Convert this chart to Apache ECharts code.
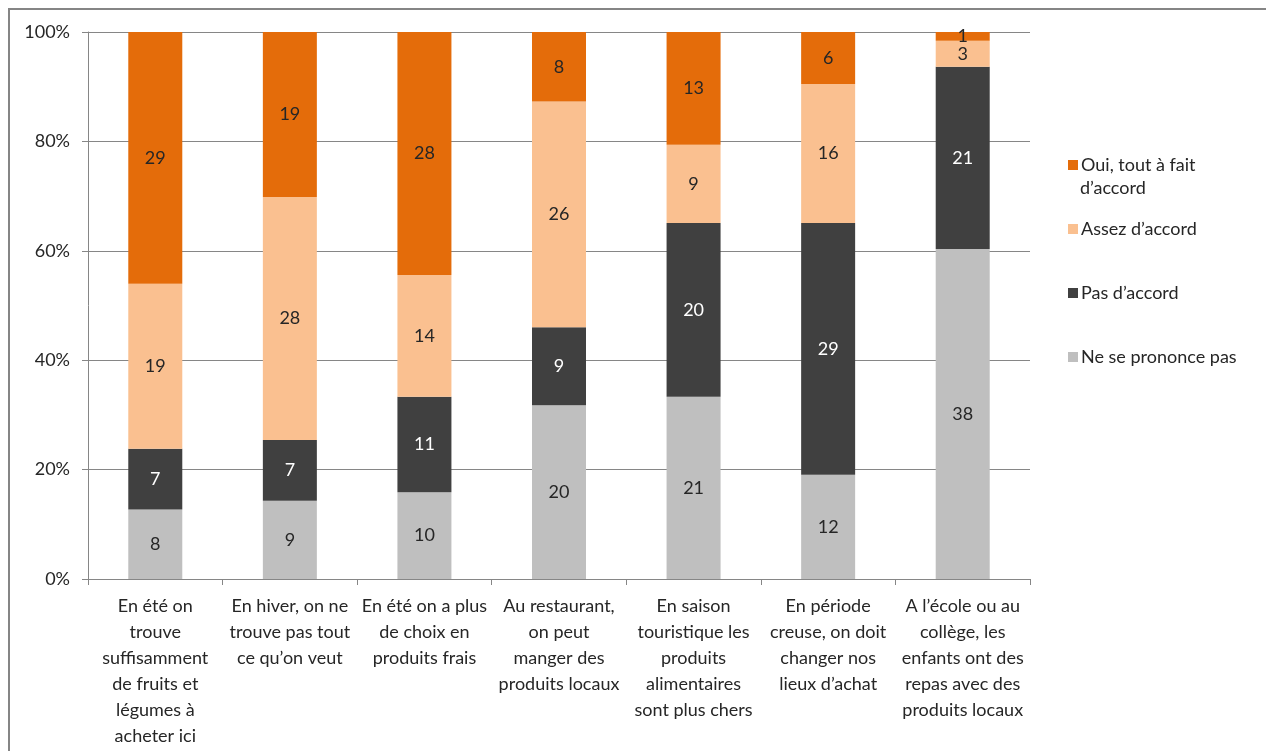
<!DOCTYPE html>
<html>
<head>
<meta charset="utf-8">
<script src="https://cdn.jsdelivr.net/npm/echarts@6/dist/echarts.min.js"></script>
<style>
  html, body { margin: 0; padding: 0; background: #fff; }
  #chart { width: 1266px; height: 751px; }
</style>
</head>
<body>
<div id="chart"></div>
<script>
// Survey statements (x-axis categories)
const categories = [
  "En été on\ntrouve\nsuffisamment\nde fruits et\nlégumes à\nacheter ici",
  "En hiver, on ne\ntrouve pas tout\nce qu’on veut",
  "En été on a plus\nde choix en\nproduits frais",
  "Au restaurant,\non peut\nmanger des\nproduits locaux",
  "En saison\ntouristique les\nproduits\nalimentaires\nsont plus chers",
  "En période\ncreuse, on doit\nchanger nos\nlieux d’achat",
  "A l’école ou au\ncollège, les\nenfants ont des\nrepas avec des\nproduits locaux"
];

// Answer counts per statement
const neSePrononcePas = [8, 9, 10, 20, 21, 12, 38];
const pasDAccord      = [7, 7, 11, 9, 20, 29, 21];
const assezDAccord    = [19, 28, 14, 26, 9, 16, 3];
const ouiToutAFait    = [29, 19, 28, 8, 13, 6, 1];

const yTicks = [0, 20, 40, 60, 80, 100];

const seriesDefs = [
  { name: "Ne se prononce pas", counts: neSePrononcePas, color: "#BFBFBF" },
  { name: "Pas d’accord", counts: pasDAccord, color: "#404040" },
  { name: "Assez d’accord", counts: assezDAccord, color: "#FAC090" },
  { name: "Oui, tout à fait d’accord", counts: ouiToutAFait, color: "#E46C0A" }
];

// totals per statement, used to express each answer as a share of 100%
const totals = categories.map((_, i) =>
  seriesDefs.reduce((s, d) => s + d.counts[i], 0));

const FONT = "Lato";
const FS = 18;

const series = seriesDefs.map(d => ({
  name: d.name,
  type: "bar",
  stack: "total",
  barWidth: 54,
  itemStyle: { color: d.color },
  label: {
    show: true,
    position: "inside",
    fontFamily: FONT,
    fontSize: FS,
    color: d.name === "Pas d’accord" ? "#ffffff" : "#262626",
    formatter: p => String(d.counts[p.dataIndex])
  },
  emphasis: { disabled: true },
  data: d.counts.map((c, i) => c / totals[i] * 100)
}));

const chart = echarts.init(document.getElementById("chart"), null, { renderer: "canvas" });

chart.setOption({
  animation: false,
  backgroundColor: "#ffffff",
  textStyle: { fontFamily: FONT },
  grid: { left: 88, right: 236, top: 32, bottom: 172, containLabel: false },
  legend: {
    orient: "vertical",
    left: 1063,
    top: 151,
    itemWidth: 10,
    itemHeight: 10,
    itemGap: 46,
    icon: "rect",
    data: ["Oui, tout à fait d’accord", "Assez d’accord", "Pas d’accord", "Ne se prononce pas"],
    formatter: n => n === "Oui, tout à fait d’accord" ? "Oui, tout à fait" : n,
    textStyle: { fontFamily: FONT, fontSize: FS, color: "#262626", padding: [0, 0, 0, -2] },
    selectedMode: false
  },
  xAxis: {
    type: "category",
    data: categories,
    axisLine: { lineStyle: { color: "#868686", width: 1 } },
    axisTick: { show: true, length: 6, lineStyle: { color: "#868686" } },
    axisLabel: {
      interval: 0,
      margin: 14,
      fontFamily: FONT,
      fontSize: FS,
      lineHeight: 26,
      color: "#262626",
      align: "center"
    }
  },
  yAxis: {
    type: "value",
    min: 0,
    max: 100,
    interval: 20,
    axisLine: { show: true, lineStyle: { color: "#868686", width: 1 } },
    axisTick: { show: true, length: 6, lineStyle: { color: "#868686" } },
    splitLine: { lineStyle: { color: "#868686", width: 1 } },
    axisLabel: {
      margin: 18,
      fontFamily: FONT,
      fontSize: FS,
      color: "#262626",
      customValues: yTicks,
      formatter: v => v + "%"
    }
  },
  graphic: [
    {
      type: "rect",
      shape: { x: 9, y: 9, width: 1300, height: 800 },
      style: { fill: "none", stroke: "#858585", lineWidth: 2 },
      silent: true
    },
    {
      type: "text",
      left: 1080,
      top: 179,
      style: { text: "d’accord", fontFamily: FONT, fontSize: FS, fill: "#262626" },
      silent: true
    }
  ],
  series: series
});
</script>
</body>
</html>
